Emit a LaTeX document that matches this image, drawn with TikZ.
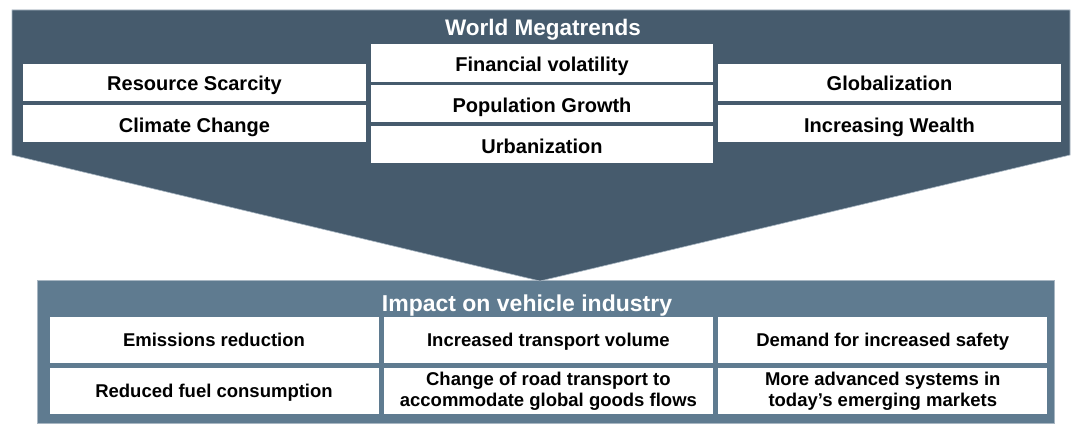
\documentclass[tikz,border=0pt]{standalone}
\usepackage{fontspec}
\setmainfont{Liberation Sans}
\usetikzlibrary{positioning}
\definecolor{mdark}{RGB}{70,91,109}
\definecolor{mslate}{RGB}{95,123,144}
\definecolor{mrim}{RGB}{168,182,194}
\newcommand\rowstrut{\rule[-3.4pt]{0pt}{20pt}}

\begin{document}
\begin{tikzpicture}[
  x=1pt,y=-1pt,
  trend/.style={fill=white,minimum width=343pt,minimum height=37pt,inner sep=0pt,
                text height=19pt,text depth=2.1pt,
                font=\fontsize{20}{24}\selectfont\bfseries},
  effect/.style={fill=white,minimum width=329pt,minimum height=46pt,inner sep=0pt,
                 execute at begin node=\rowstrut,execute at end node=\rowstrut,
                 align=center,font=\fontsize{18.5}{21.5}\selectfont\bfseries},
  head/.style={text=white,inner sep=0pt,text height=16.3pt,text depth=0pt,
               font=\fontsize{23}{26}\selectfont\bfseries}
]
  \useasboundingbox (0,0) rectangle (1084,444);

  % lower panel and the big arrow
  \filldraw[fill=mslate,draw=mrim,line width=1pt] (37,280) rectangle (1054,423);
  \filldraw[fill=mdark,draw=mrim,line width=0.6pt]
    (12,10) -- (1070,10) -- (1070,155) -- (540,281) -- (12,155) -- cycle;

  % megatrends
  \node[head,font=\fontsize{22.5}{26}\selectfont\bfseries] (world) at (543,27.7) {World Megatrends};
  \node[trend] (scarce) at (194.5,82.5) {Resource Scarcity};
  \node[trend,below=4pt of scarce] (climate) {Climate Change};
  \node[trend,minimum width=342pt] (finance) at (542,63) {Financial volatility};
  \node[trend,minimum width=342pt,below=3.5pt of finance] (popul) {Population Growth};
  \node[trend,minimum width=342pt,below=3.5pt of popul] (urban) {Urbanization};
  \node[trend] (global) at (889.5,82.5) {Globalization};
  \node[trend,below=4pt of global] (wealth) {Increasing Wealth};

  % impact on vehicles
  \node[head] (impact) at (527,303.7) {Impact on vehicle industry};
  \node[effect] (emis) at (214,340) {Emissions reduction};
  \node[effect,below=5pt of emis] (fuel) {Reduced fuel consumption};
  \node[effect,right=5pt of emis] (volume) {Increased transport volume};
  \node[effect,below=5pt of volume] (road) {Change of road transport to\\accommodate global goods flows};
  \node[effect,right=5pt of volume] (safety) {Demand for increased safety};
  \node[effect,below=5pt of safety] (markets) {More advanced systems in\\today’s emerging markets};
\end{tikzpicture}
\end{document}
